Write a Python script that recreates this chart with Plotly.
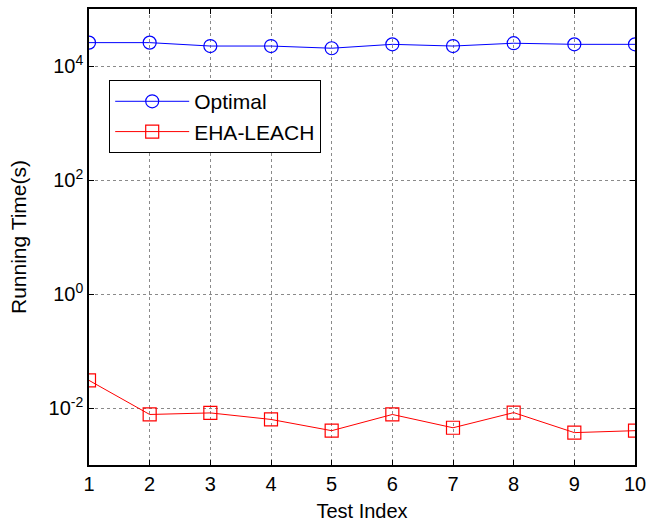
import plotly.graph_objects as go

test_index = [1, 2, 3, 4, 5, 6, 7, 8, 9, 10]
optimal = [25700, 25700, 22400, 22400, 20500, 24000, 22400, 25100, 24000, 24000]
eha_leach = [0.0305, 0.0077, 0.0082, 0.0063, 0.0040, 0.0077, 0.0045, 0.0083, 0.0037, 0.0040]

font = "Liberation Sans, Arial, sans-serif"

fig = go.Figure()
fig.add_trace(go.Scatter(
    x=test_index, y=optimal, name="Optimal", mode="lines+markers",
    line=dict(color="#0000ff", width=1),
    marker=dict(symbol="circle-open", size=13, color="#0000ff", line=dict(width=1.2)),
))
fig.add_trace(go.Scatter(
    x=test_index, y=eha_leach, name="EHA-LEACH", mode="lines+markers",
    line=dict(color="#ff0000", width=1),
    marker=dict(symbol="square-open", size=13, color="#ff0000", line=dict(width=1.2)),
))

axis_common = dict(
    showline=True, linecolor="black", linewidth=1.5, mirror="ticks",
    ticks="inside", ticklen=5, tickcolor="black",
    showgrid=True, gridcolor="#8a8a8a", griddash="dot", gridwidth=1,
    zeroline=False, tickfont=dict(family=font, size=20, color="black"),
    ticklabeloverflow="allow", automargin=False,
)

fig.update_xaxes(
    range=[1, 10], tickmode="array", tickvals=test_index,
    title=dict(text="Test Index", font=dict(family=font, size=20, color="black"), standoff=10),
    **axis_common,
)
fig.update_yaxes(
    type="log", range=[-3, 5], tickmode="array",
    tickvals=[1e-2, 1, 1e2, 1e4],
    ticktext=["10<sup>-2</sup>", "10<sup>0</sup>", "10<sup>2</sup>", "10<sup>4</sup>"],
    title=dict(text="Running Time(s)", font=dict(family=font, size=21, color="black"), standoff=16),
    **axis_common,
)

fig.update_layout(
    width=646, height=527,
    margin=dict(l=89, r=11, t=9, b=62),
    paper_bgcolor="white", plot_bgcolor="white",
    showlegend=True,
    legend=dict(
        x=0.037, y=0.844, xanchor="left", yanchor="top",
        bgcolor="white", bordercolor="black", borderwidth=1,
        font=dict(family=font, size=21, color="black"),
        itemwidth=74, tracegroupgap=0,
    ),
)

fig.write_html("out.html")
